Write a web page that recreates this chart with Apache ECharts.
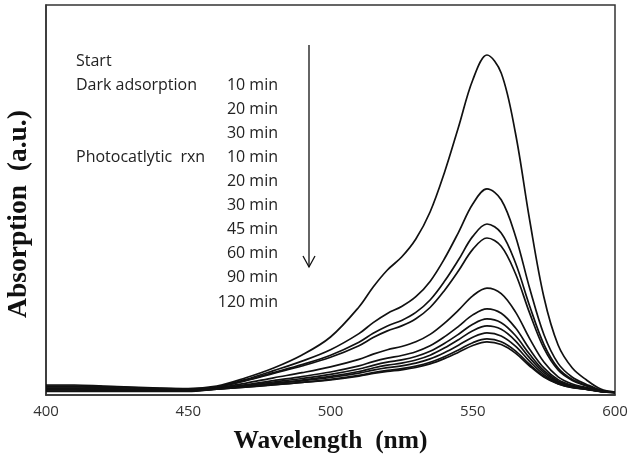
<!DOCTYPE html>
<html>
<head>
<meta charset="utf-8">
<script src="https://cdn.jsdelivr.net/npm/echarts@6/dist/echarts.min.js"></script>
<style>
  html, body { margin: 0; padding: 0; background: #fff; }
  #main { width: 629px; height: 458px; }
</style>
</head>
<body>
<div id="main"></div>
<script>
// wavelength grid (nm)
var wavelengths = [400, 410, 420, 430, 440, 450, 460, 470, 480, 490, 500, 510, 515, 520, 525, 530, 535, 540, 545, 550, 555, 560, 565, 570, 575, 580, 585, 590, 595, 600];

// absorption (a.u.)
var start    = [0.10, 0.10, 0.09, 0.08, 0.07, 0.065, 0.09, 0.17, 0.27, 0.40, 0.58, 0.88, 1.08, 1.25, 1.38, 1.56, 1.83, 2.22, 2.68, 3.15, 3.40, 3.22, 2.62, 1.75, 0.98, 0.50, 0.27, 0.15, 0.06, 0.03];
var dark10   = [0.09, 0.09, 0.085, 0.075, 0.065, 0.06, 0.082, 0.154, 0.244, 0.339, 0.453, 0.614, 0.724, 0.816, 0.885, 0.983, 1.136, 1.36, 1.627, 1.91, 2.061, 1.952, 1.591, 1.068, 0.605, 0.316, 0.178, 0.106, 0.048, 0.025];
var dark20   = [0.085, 0.085, 0.08, 0.07, 0.065, 0.06, 0.08, 0.145, 0.224, 0.304, 0.398, 0.528, 0.617, 0.691, 0.746, 0.826, 0.95, 1.134, 1.352, 1.586, 1.71, 1.621, 1.322, 0.89, 0.507, 0.269, 0.154, 0.095, 0.045, 0.025];
var dark30   = [0.08, 0.08, 0.075, 0.07, 0.06, 0.055, 0.079, 0.141, 0.216, 0.29, 0.377, 0.493, 0.574, 0.641, 0.691, 0.763, 0.875, 1.043, 1.242, 1.456, 1.57, 1.488, 1.215, 0.819, 0.468, 0.25, 0.145, 0.09, 0.044, 0.025];
var photo10  = [0.07, 0.07, 0.065, 0.06, 0.055, 0.05, 0.072, 0.117, 0.172, 0.223, 0.281, 0.356, 0.409, 0.453, 0.485, 0.532, 0.606, 0.717, 0.849, 0.992, 1.069, 1.014, 0.831, 0.564, 0.329, 0.182, 0.11, 0.074, 0.039, 0.025];
var photo20  = [0.065, 0.065, 0.06, 0.055, 0.05, 0.05, 0.067, 0.102, 0.144, 0.184, 0.23, 0.291, 0.334, 0.369, 0.395, 0.433, 0.492, 0.581, 0.687, 0.801, 0.862, 0.818, 0.672, 0.458, 0.271, 0.154, 0.096, 0.067, 0.037, 0.025];
var photo30  = [0.06, 0.06, 0.055, 0.05, 0.05, 0.045, 0.064, 0.094, 0.13, 0.165, 0.206, 0.26, 0.297, 0.328, 0.351, 0.385, 0.437, 0.515, 0.608, 0.708, 0.761, 0.723, 0.595, 0.407, 0.243, 0.141, 0.089, 0.063, 0.036, 0.025];
var photo45  = [0.055, 0.055, 0.05, 0.05, 0.045, 0.045, 0.062, 0.087, 0.118, 0.149, 0.186, 0.235, 0.27, 0.298, 0.319, 0.35, 0.398, 0.469, 0.553, 0.643, 0.691, 0.657, 0.542, 0.371, 0.224, 0.131, 0.084, 0.061, 0.036, 0.025];
var photo60  = [0.05, 0.05, 0.045, 0.045, 0.04, 0.04, 0.061, 0.085, 0.114, 0.142, 0.175, 0.218, 0.248, 0.273, 0.292, 0.319, 0.361, 0.423, 0.498, 0.578, 0.621, 0.59, 0.488, 0.336, 0.204, 0.122, 0.079, 0.059, 0.035, 0.025];
var photo90  = [0.04, 0.04, 0.04, 0.04, 0.04, 0.04, 0.059, 0.079, 0.103, 0.127, 0.157, 0.196, 0.224, 0.247, 0.264, 0.289, 0.327, 0.383, 0.451, 0.523, 0.561, 0.533, 0.442, 0.305, 0.187, 0.114, 0.075, 0.057, 0.035, 0.025];
var photo120 = [0.035, 0.035, 0.035, 0.035, 0.035, 0.035, 0.059, 0.078, 0.101, 0.125, 0.152, 0.189, 0.215, 0.236, 0.252, 0.275, 0.311, 0.364, 0.427, 0.495, 0.531, 0.505, 0.419, 0.29, 0.179, 0.11, 0.073, 0.056, 0.034, 0.025];

var curves = [start, dark10, dark20, dark30, photo10, photo20, photo30, photo45, photo60, photo90, photo120];

// annotation text, one row per curve
var stageLabels = ['Start', 'Dark adsorption', '', '', 'Photocatlytic  rxn', '', '', '', '', '', ''];
var timeLabels = ['', '10 min', '20 min', '30 min', '10 min', '20 min', '30 min', '45 min', '60 min', '90 min', '120 min'];

var xTicks = [400, 450, 500, 550, 600];

var series = curves.map(function (c, k) {
    return {
        name: k === 0 ? 'Start' : timeLabels[k],
        type: 'line',
        smooth: 0.35,
        showSymbol: false,
        silent: true,
        lineStyle: { color: '#111', width: 1.7 },
        data: wavelengths.map(function (w, i) { return [w, c[i]]; })
    };
});

var textFont = '"Open Sans", sans-serif';
var graphics = [];
stageLabels.forEach(function (s, i) {
    var y = 61 + i * 24.1;
    if (s) graphics.push({ type: 'text', x: 76, y: y, style: { text: s, font: '16px ' + textFont, fill: '#222', align: 'left', verticalAlign: 'middle' } });
    if (timeLabels[i]) graphics.push({ type: 'text', x: 278, y: y, style: { text: timeLabels[i], font: '16px ' + textFont, fill: '#222', align: 'right', verticalAlign: 'middle' } });
});
// downward arrow
graphics.push({ type: 'line', shape: { x1: 309, y1: 45, x2: 309, y2: 267 }, style: { stroke: '#111', lineWidth: 1.3 } });
graphics.push({ type: 'polyline', shape: { points: [[303, 256], [309, 267], [315, 256]] }, style: { stroke: '#111', lineWidth: 1.3, fill: null } });

echarts.init(document.getElementById('main')).setOption({
    animation: false,
    grid: { left: 46, right: 14, top: 5, bottom: 63, outerBoundsMode: 'none', show: true, borderColor: '#333', borderWidth: 1.5 },
    xAxis: {
        type: 'value',
        min: 400,
        max: 600,
        interval: 50,
        name: 'Wavelength  (nm)',
        nameLocation: 'middle',
        nameGap: 33,
        nameTextStyle: { fontFamily: '"Liberation Serif", serif', fontWeight: 'bold', fontSize: 25.5, color: '#111' },
        axisLine: { lineStyle: { color: '#333', width: 1.5 } },
        axisTick: { show: false },
        splitLine: { show: false },
        axisLabel: {
            margin: 9,
            fontFamily: textFont,
            fontSize: 15,
            color: '#333',
            formatter: function (v) { return xTicks.indexOf(v) >= 0 ? String(v) : ''; }
        }
    },
    yAxis: {
        type: 'value',
        min: 0,
        max: 3.9,
        name: 'Absorption  (a.u.)',
        nameLocation: 'middle',
        nameGap: 13,
        nameTextStyle: { fontFamily: '"Liberation Serif", serif', fontWeight: 'bold', fontSize: 27.5, color: '#111', padding: [0, 28, 0, 0] },
        axisLine: { show: true, lineStyle: { color: '#333', width: 1.5 } },
        axisTick: { show: false },
        axisLabel: { show: false },
        splitLine: { show: false }
    },
    graphic: graphics,
    series: series
});
</script>
</body>
</html>
